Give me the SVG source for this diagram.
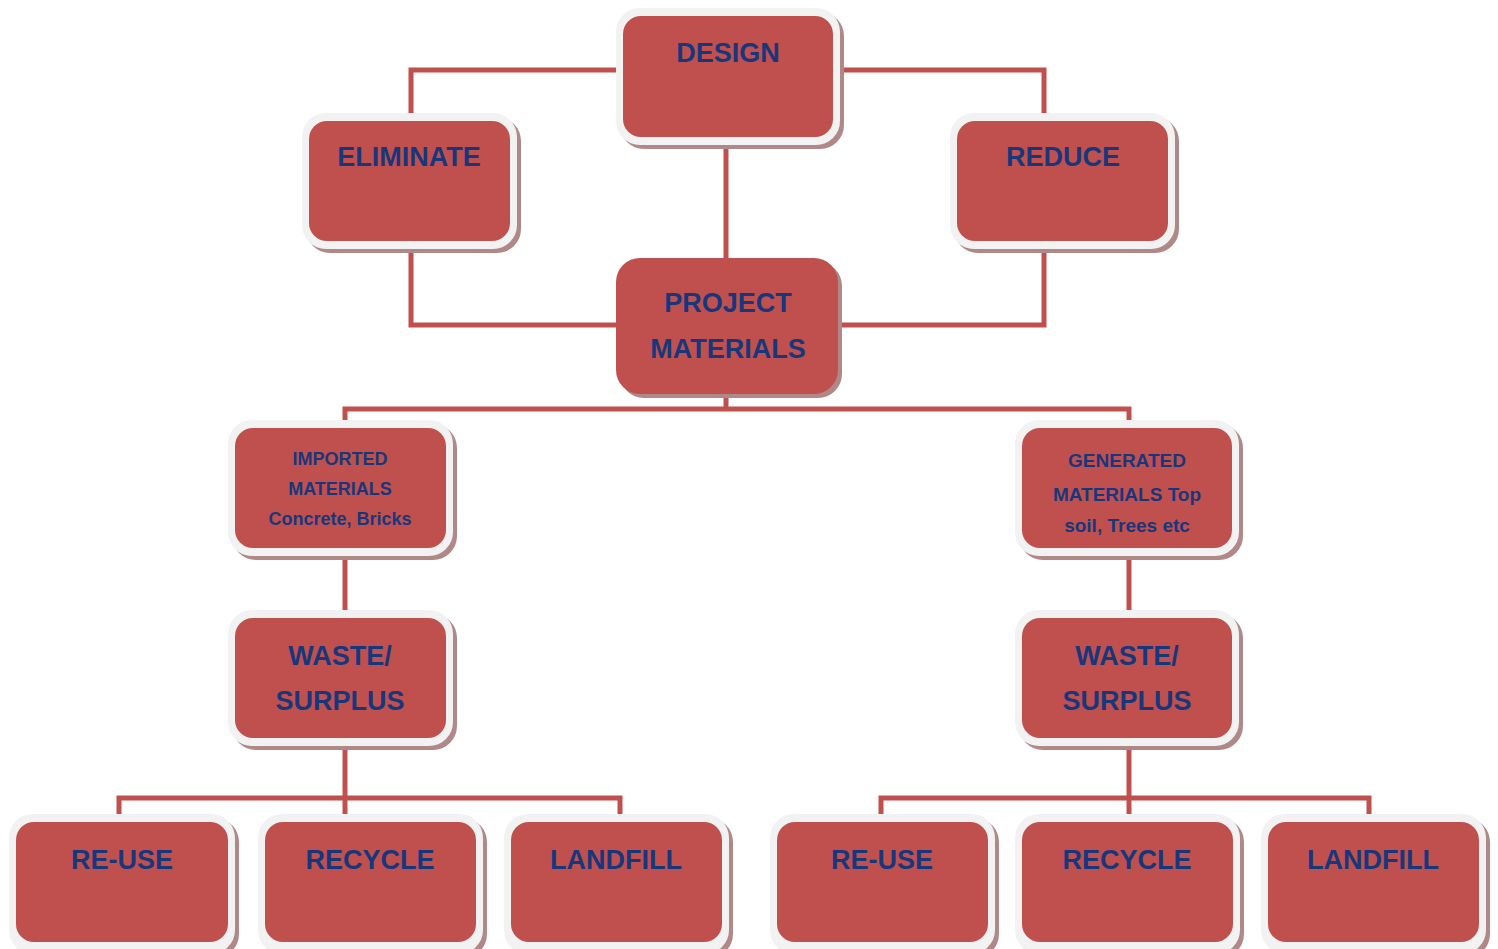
<svg xmlns="http://www.w3.org/2000/svg" width="1498" height="949" viewBox="0 0 1498 949">
  <defs>
    <style>
      .wire { fill: none; stroke: #c0504d; stroke-width: 5; stroke-linejoin: miter; }
      .shadow { fill: #b08888; }
      .frame { fill: #f2f2f2; }
      .box { fill: #c0504d; }
      .lbl { font-family: "Liberation Sans", Arial, sans-serif; font-weight: bold; fill: #17377d; text-anchor: middle; }
      .big { font-size: 27px; }
      .small { font-size: 18px; }
      .mid { font-size: 19px; }
    </style>
  </defs>

  <rect width="1498" height="949" fill="#ffffff"/>

  <!-- connectors -->
  <g id="connectors">
    <polyline class="wire" points="620,70 411,70 411,121"/>
    <polyline class="wire" points="836,70 1044,70 1044,121"/>
    <line class="wire" x1="726" y1="138" x2="726" y2="260"/>
    <polyline class="wire" points="411,241 411,325 618,325"/>
    <polyline class="wire" points="1044,241 1044,325 838,325"/>
    <line class="wire" x1="726" y1="392" x2="726" y2="409"/>
    <polyline class="wire" points="345,428 345,409 1129,409 1129,428"/>
    <line class="wire" x1="345" y1="548" x2="345" y2="620"/>
    <line class="wire" x1="1129" y1="548" x2="1129" y2="620"/>
    <line class="wire" x1="345" y1="738" x2="345" y2="822"/>
    <polyline class="wire" points="119,822 119,798 620,798 620,822"/>
    <line class="wire" x1="1129" y1="738" x2="1129" y2="822"/>
    <polyline class="wire" points="881,822 881,798 1369,798 1369,822"/>
  </g>

  <!-- DESIGN -->
  <g id="node-design">
    <rect class="shadow" x="620" y="12" width="224" height="137" rx="24"/>
    <rect class="frame" x="616" y="8" width="224" height="137" rx="24"/>
    <rect class="box" x="623" y="16" width="210" height="121" rx="18"/>
    <text class="lbl big" x="728" y="62">DESIGN</text>
  </g>

  <!-- ELIMINATE -->
  <g id="node-eliminate">
    <rect class="shadow" x="306" y="117" width="215" height="136" rx="24"/>
    <rect class="frame" x="302" y="113" width="215" height="136" rx="24"/>
    <rect class="box" x="309" y="121" width="201" height="120" rx="18"/>
    <text class="lbl big" x="409" y="166">ELIMINATE</text>
  </g>

  <!-- REDUCE -->
  <g id="node-reduce">
    <rect class="shadow" x="954" y="117" width="225" height="136" rx="24"/>
    <rect class="frame" x="950" y="113" width="225" height="136" rx="24"/>
    <rect class="box" x="957" y="121" width="211" height="120" rx="18"/>
    <text class="lbl big" x="1063" y="166">REDUCE</text>
  </g>

  <!-- PROJECT MATERIALS -->
  <g id="node-project-materials">
    <rect class="shadow" x="620" y="262" width="222" height="136" rx="24"/>
    <rect class="box" x="616" y="258" width="222" height="136" rx="24"/>
    <text class="lbl big" x="728" y="312">PROJECT</text>
    <text class="lbl big" x="728" y="358">MATERIALS</text>
  </g>

  <!-- IMPORTED MATERIALS -->
  <g id="node-imported">
    <rect class="shadow" x="232" y="424" width="225" height="136" rx="24"/>
    <rect class="frame" x="228" y="420" width="225" height="136" rx="24"/>
    <rect class="box" x="235" y="428" width="211" height="120" rx="18"/>
    <text class="lbl small" x="340" y="465">IMPORTED</text>
    <text class="lbl small" x="340" y="495">MATERIALS</text>
    <text class="lbl small" x="340" y="525">Concrete, Bricks</text>
  </g>

  <!-- GENERATED MATERIALS -->
  <g id="node-generated">
    <rect class="shadow" x="1019" y="424" width="224" height="136" rx="24"/>
    <rect class="frame" x="1015" y="420" width="224" height="136" rx="24"/>
    <rect class="box" x="1022" y="428" width="210" height="120" rx="18"/>
    <text class="lbl mid" x="1127" y="467">GENERATED</text>
    <text class="lbl mid" x="1127" y="501">MATERIALS Top</text>
    <text class="lbl mid" x="1127" y="532">soil, Trees etc</text>
  </g>

  <!-- WASTE / SURPLUS (left) -->
  <g id="node-waste-left">
    <rect class="shadow" x="232" y="614" width="225" height="136" rx="24"/>
    <rect class="frame" x="228" y="610" width="225" height="136" rx="24"/>
    <rect class="box" x="235" y="618" width="211" height="120" rx="18"/>
    <text class="lbl big" x="340" y="665">WASTE/</text>
    <text class="lbl big" x="340" y="710">SURPLUS</text>
  </g>

  <!-- WASTE / SURPLUS (right) -->
  <g id="node-waste-right">
    <rect class="shadow" x="1019" y="614" width="224" height="136" rx="24"/>
    <rect class="frame" x="1015" y="610" width="224" height="136" rx="24"/>
    <rect class="box" x="1022" y="618" width="210" height="120" rx="18"/>
    <text class="lbl big" x="1127" y="665">WASTE/</text>
    <text class="lbl big" x="1127" y="710">SURPLUS</text>
  </g>

  <!-- bottom row, left branch -->
  <g id="node-reuse-left">
    <rect class="shadow" x="13" y="818" width="226" height="140" rx="24"/>
    <rect class="frame" x="9" y="814" width="226" height="140" rx="24"/>
    <rect class="box" x="16" y="822" width="212" height="120" rx="18"/>
    <text class="lbl big" x="122" y="869">RE-USE</text>
  </g>
  <g id="node-recycle-left">
    <rect class="shadow" x="262" y="818" width="225" height="140" rx="24"/>
    <rect class="frame" x="258" y="814" width="225" height="140" rx="24"/>
    <rect class="box" x="265" y="822" width="211" height="120" rx="18"/>
    <text class="lbl big" x="370" y="869">RECYCLE</text>
  </g>
  <g id="node-landfill-left">
    <rect class="shadow" x="508" y="818" width="225" height="140" rx="24"/>
    <rect class="frame" x="504" y="814" width="225" height="140" rx="24"/>
    <rect class="box" x="511" y="822" width="211" height="120" rx="18"/>
    <text class="lbl big" x="616" y="869">LANDFILL</text>
  </g>

  <!-- bottom row, right branch -->
  <g id="node-reuse-right">
    <rect class="shadow" x="774" y="818" width="225" height="140" rx="24"/>
    <rect class="frame" x="770" y="814" width="225" height="140" rx="24"/>
    <rect class="box" x="777" y="822" width="211" height="120" rx="18"/>
    <text class="lbl big" x="882" y="869">RE-USE</text>
  </g>
  <g id="node-recycle-right">
    <rect class="shadow" x="1019" y="818" width="225" height="140" rx="24"/>
    <rect class="frame" x="1015" y="814" width="225" height="140" rx="24"/>
    <rect class="box" x="1022" y="822" width="211" height="120" rx="18"/>
    <text class="lbl big" x="1127" y="869">RECYCLE</text>
  </g>
  <g id="node-landfill-right">
    <rect class="shadow" x="1265" y="818" width="225" height="140" rx="24"/>
    <rect class="frame" x="1261" y="814" width="225" height="140" rx="24"/>
    <rect class="box" x="1268" y="822" width="211" height="120" rx="18"/>
    <text class="lbl big" x="1373" y="869">LANDFILL</text>
  </g>
</svg>
